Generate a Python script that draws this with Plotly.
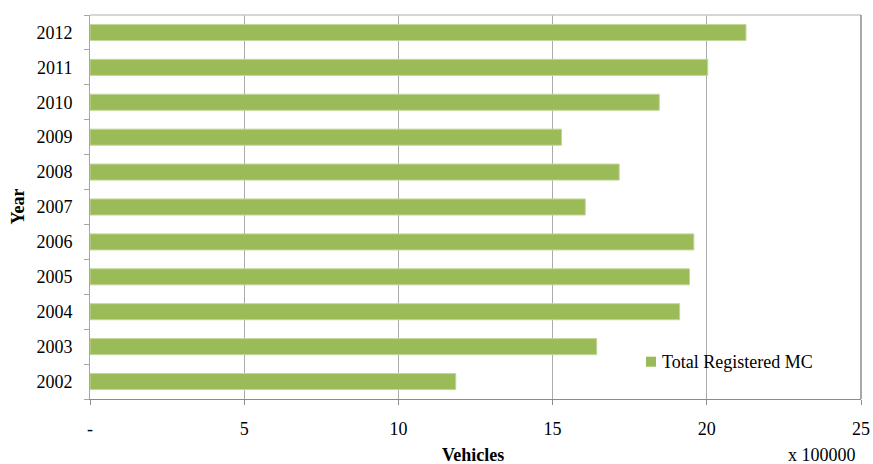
import plotly.graph_objects as go

years = ["2002", "2003", "2004", "2005", "2006", "2007", "2008", "2009", "2010", "2011", "2012"]
registered_mc = [11.86, 16.43, 19.12, 19.44, 19.58, 16.06, 17.16, 15.29, 18.46, 20.03, 21.27]
x_tick_vals = [0, 5, 10, 15, 20, 25]
x_tick_text = ["-", "5", "10", "15", "20", "25"]
series_name = "Total Registered MC"
bar_color = "#9BBB59"

FONT = "Times New Roman, Liberation Serif, serif"

fig = go.Figure(
    go.Bar(
        x=registered_mc,
        y=years,
        orientation="h",
        name=series_name,
        showlegend=False,
        marker=dict(color=bar_color, line=dict(color="#C3D69B", width=1)),
    )
)

fig.update_layout(
    width=873,
    height=464,
    margin=dict(l=90, r=12, t=15, b=65, autoexpand=False),
    paper_bgcolor="white",
    plot_bgcolor="white",
    bargap=0.54,
    font=dict(family=FONT, size=18, color="black"),
    xaxis=dict(
        range=[0, 25],
        tickvals=x_tick_vals,
        ticktext=x_tick_text,
        showgrid=True,
        gridcolor="#ABABAB",
        gridwidth=1,
        showline=True,
        linecolor="#8C8C8C",
        ticks="outside",
        ticklen=5,
        tickcolor="#8C8C8C",
        zeroline=False,
        ticklabelstandoff=8,
        automargin=False,
        tickfont=dict(family=FONT, size=18),
    ),
    yaxis=dict(
        type="category",
        categoryorder="array",
        categoryarray=years,
        showgrid=False,
        showline=True,
        linecolor="#A6A6A6",
        ticks="outside",
        tickson="boundaries",
        ticklen=5,
        tickcolor="#A6A6A6",
        ticklabelstandoff=13,
        automargin=False,
        tickfont=dict(family=FONT, size=18),
    ),
    shapes=[
        # plot frame: top and right edges
        dict(type="line", xref="paper", yref="paper", x0=0, x1=1, y0=1, y1=1,
             line=dict(color="#C8C8C8", width=1.5)),
        dict(type="line", xref="paper", yref="paper", x0=1, x1=1, y0=0, y1=1,
             line=dict(color="#8C8C8C", width=1.5)),
        # legend swatch
        dict(type="rect", xref="paper", yref="paper", x0=0.7211, x1=0.7341,
             y0=0.0841, y1=0.1102, fillcolor=bar_color, line=dict(width=0)),
    ],
    annotations=[
        dict(text=series_name, xref="paper", yref="paper", x=0.7393, y=0.0964,
             xanchor="left", yanchor="middle", showarrow=False,
             font=dict(family=FONT, size=18)),
        dict(text="<b>Year</b>", xref="paper", yref="paper", x=-0.094, y=0.5,
             xanchor="center", yanchor="middle", textangle=-90, showarrow=False,
             font=dict(family=FONT, size=18)),
        dict(text="<b>Vehicles</b>", xref="paper", yref="paper", x=0.4968, y=-0.145,
             xanchor="center", yanchor="middle", showarrow=False,
             font=dict(family=FONT, size=18)),
        dict(text="x 100000", xref="paper", yref="paper", x=0.9494, y=-0.145,
             xanchor="center", yanchor="middle", showarrow=False,
             font=dict(family=FONT, size=18)),
    ],
)

fig.write_html("out.html")
